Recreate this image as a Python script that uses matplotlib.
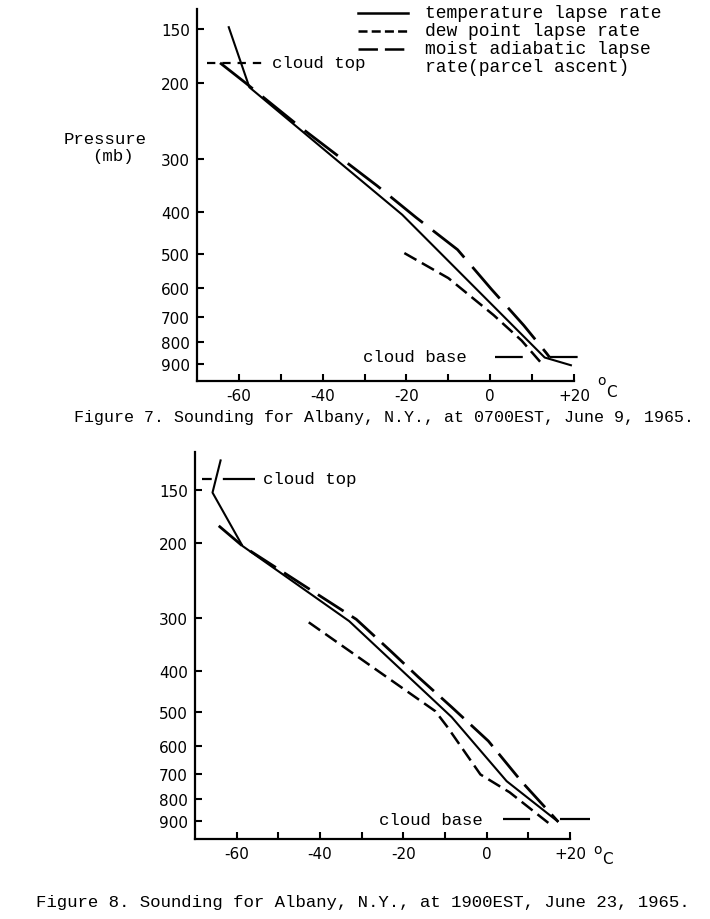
import matplotlib
matplotlib.use("Agg")
import matplotlib.pyplot as plt
from matplotlib.lines import Line2D
from matplotlib.ticker import NullLocator, NullFormatter

plt.rcParams['lines.scale_dashes'] = False

W, H = 710, 920
MONO = ['Liberation Mono', 'DejaVu Sans Mono']
SANS = ['DejaVu Sans']

# ---------------- data: Figure 7 (0700EST, June 9, 1965) ----------------
temp_T1 = [-62.5, -57.5, -21.0, 13.0, 19.5]
temp_p1 = [148, 205, 405, 868, 906]
dew_T1 = [-20.5, -10.0, 0.8, 7.5, 12.7]
dew_p1 = [497, 568, 692, 793, 906]
moist_T1 = [-64.5, -58.5, -45.5, -37.5, -27.0, -17.7, -7.8, 0.3, 8.0, 13.5, 14.2]
moist_p1 = [180, 200, 253, 290, 347, 411, 488, 603, 731, 850, 868]
cloud_top_p1 = 180
cloud_top_T1 = [-67.6, -53.8]
cloud_base_p1 = 865
cloud_base_T1 = [1.2, 22.2]

# ---------------- data: Figure 8 (1900EST, June 23, 1965) ----------------
temp_T2 = [-63.8, -65.8, -58.6, -33.0, -8.4, 4.8, 17.2]
temp_p2 = [127, 152, 203, 305, 513, 726, 905]
dew_T2 = [-42.7, -12.3, -9.5, -1.5, 5.5, 14.8]
dew_p2 = [307, 497, 540, 700, 771, 910]
moist_T2 = [-64.3, -58.6, -31.3, -23.0, -16.4, -8.4, 0.4, 8.3, 17.2]
moist_p2 = [182, 203, 302, 359, 413, 486, 584, 726, 905]
cloud_top_p2 = 141
cloud_top_T2 = [-68.3, -55.6]
cloud_base_p2 = 893
cloud_base_T2 = [3.8, 24.7]

pressure_ticks = [150, 200, 300, 400, 500, 600, 700, 800, 900]
temp_major = [-60, -40, -20, 0, 20]
temp_major_labels = ['-60', '-40', '-20', '0', '+20']
temp_minor = [-50, -30, -10, 10]

legend_labels = ['temperature lapse rate', 'dew point lapse rate',
                 'moist adiabatic lapse', 'rate(parcel ascent)']
caption1 = 'Figure 7. Sounding for Albany, N.Y., at 0700EST, June 9, 1965.'
caption2 = 'Figure 8. Sounding for Albany, N.Y., at 1900EST, June 23, 1965.'

fig = plt.figure(figsize=(7.1, 9.2), dpi=100)


def fx(x):
    return x / W


def fy(y):
    return 1 - y / H


def make_axes(l, t, r, b, ylim):
    ax = fig.add_axes([l / W, 1 - b / H, (r - l) / W, (b - t) / H])
    ax.set_yscale('log')
    ax.set_xlim(-70, 20)
    ax.set_ylim(*ylim)
    for s in ['top', 'right']:
        ax.spines[s].set_visible(False)
    for s in ['left', 'bottom']:
        ax.spines[s].set_linewidth(1.6)
    ax.set_yticks(pressure_ticks, labels=[str(p) for p in pressure_ticks])
    ax.yaxis.set_minor_locator(NullLocator())
    ax.yaxis.set_minor_formatter(NullFormatter())
    ax.set_xticks(temp_major, labels=temp_major_labels)
    ax.set_xticks(temp_minor, minor=True)
    ax.tick_params(which='both', direction='in', length=5, width=1.5,
                   labelsize=11, pad=5)
    for lab in ax.get_xticklabels() + ax.get_yticklabels():
        lab.set_family(SANS)
    return ax


def draw(ax, tT, tp, dT, dp, mT, mp, moist_dash, ctT, ctp, ct_dash, cbT, cbp, cb_dash):
    ax.plot(tT, tp, color='black', lw=1.5, solid_capstyle='butt')
    ax.plot(dT, dp, color='black', lw=1.8, dashes=(10, 4.5))
    ax.plot(mT, mp, color='black', lw=2.0, dashes=moist_dash)
    ax.plot(ctT, [ctp, ctp], color='black', lw=1.6, dashes=ct_dash, clip_on=False)
    ax.plot(cbT, [cbp, cbp], color='black', lw=1.6, dashes=cb_dash, clip_on=False)


# ---------------- Figure 7 ----------------
ax1 = make_axes(197, 10, 574, 382, (984, 135))
draw(ax1, temp_T1, temp_p1, dew_T1, dew_p1, moist_T1, moist_p1, (30, 9),
     cloud_top_T1, cloud_top_p1, (6, 5), cloud_base_T1, cloud_base_p1, (20, 19.5))
ax1.text(-52.1, cloud_top_p1, 'cloud top', family=MONO, fontsize=12.5,
         ha='left', va='center')
ax1.text(-5.5, cloud_base_p1, 'cloud base', family=MONO, fontsize=12.5,
         ha='right', va='center')

# legend
leg_rows = [14, 32, 50, 68]
leg_dashes = [None, (6.5, 3), (14, 5)]
for i, lab in enumerate(legend_labels):
    y = leg_rows[i]
    if i < 3:
        kw = dict(color='black', lw=1.8, transform=fig.transFigure)
        if leg_dashes[i] is not None:
            kw['dashes'] = leg_dashes[i]
        fig.add_artist(Line2D([fx(358), fx(408)], [fy(y), fy(y)], **kw))
    fig.text(fx(425), fy(y), lab, family=MONO, fontsize=13, ha='left', va='center')

fig.text(fx(147), fy(139), 'Pressure', family=MONO, fontsize=12.5, ha='right', va='center')
fig.text(fx(134), fy(156), '(mb)', family=MONO, fontsize=12.5, ha='right', va='center')
fig.text(fx(601), fy(381), 'o', family=SANS, fontsize=10, ha='center', va='center')
fig.text(fx(611), fy(393), 'C', family=SANS, fontsize=11, ha='center', va='center')
fig.text(fx(74), fy(418), caption1, family=MONO, fontsize=12, ha='left', va='center')

# ---------------- Figure 8 ----------------
ax2 = make_axes(195, 453, 570, 840, (993, 122))
draw(ax2, temp_T2, temp_p2, dew_T2, dew_p2, moist_T2, moist_p2, (22, 7),
     cloud_top_T2, cloud_top_p2, (7, 8, 30, 1), cloud_base_T2, cloud_base_p2, (19.5, 21.5, 22, 1))
ax2.text(-53.8, cloud_top_p2, 'cloud top', family=MONO, fontsize=12.5,
         ha='left', va='center')
ax2.text(-1.0, cloud_base_p2, 'cloud base', family=MONO, fontsize=12.5,
         ha='right', va='center')
fig.text(fx(597), fy(850), 'o', family=SANS, fontsize=10, ha='center', va='center')
fig.text(fx(607), fy(860), 'C', family=SANS, fontsize=11, ha='center', va='center')
fig.text(fx(36), fy(903), caption2, family=MONO, fontsize=12.5, ha='left', va='center')

fig.savefig('out.png', dpi=100)
